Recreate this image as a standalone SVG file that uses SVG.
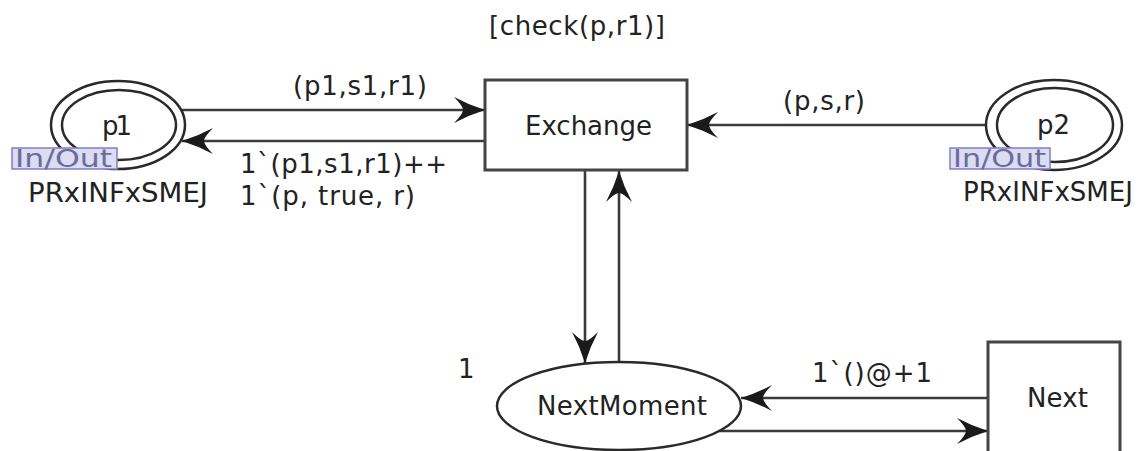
<svg xmlns="http://www.w3.org/2000/svg" width="1147" height="451" viewBox="0 0 1147 451">
  <style>
    text { font-family: "DejaVu Sans", Verdana, sans-serif; font-size: 26px; fill: #222; }
    .place { fill: none; stroke: #2a2a2a; stroke-width: 2.5; }
    .trans { fill: #fff; stroke: #444; stroke-width: 3; }
    .arc { fill: none; stroke: #3a3a3a; stroke-width: 2.6; marker-end: url(#head); }
    .port rect { fill: #dcdcf2; stroke: #7f7fc0; stroke-width: 1.5; }
    .port text { fill: #6b6b9e; font-size: 25px; }
  </style>
  <defs>
    <marker id="head" markerUnits="userSpaceOnUse" viewBox="-32 -14 34 28" refX="0" refY="0" markerWidth="34" markerHeight="28" orient="auto">
      <path d="M0,0 Q-16,-5 -31,-13 Q-22,-4 -22,0 Q-22,4 -31,13 Q-16,5 0,0 Z" fill="#1a1a1a"/>
    </marker>
  </defs>
  <rect width="1147" height="451" fill="#fff"/>

  <!-- arcs -->
  <g id="arcs">
    <path class="arc" d="M182,110 L485,110"/>
    <path class="arc" d="M485,141 L182,141"/>
    <path class="arc" d="M986,125 L687,125"/>
    <path class="arc" d="M585,170 L585,363"/>
    <path class="arc" d="M619,362 L619,171"/>
    <path class="arc" d="M988,398 L741,398"/>
    <path class="arc" d="M719,431 L988,431"/>
    <text x="293" y="95" textLength="134">(p1,s1,r1)</text>
    <text x="240" y="173" textLength="207">1`(p1,s1,r1)++</text>
    <text x="240" y="205" textLength="175">1`(p, true, r)</text>
    <text x="783" y="110" textLength="82">(p,s,r)</text>
    <text x="812" y="382" textLength="120">1`()@+1</text>
  </g>

  <!-- transition Exchange -->
  <g id="Exchange">
    <rect class="trans" x="485" y="80" width="202" height="90"/>
    <text x="525" y="135" textLength="127">Exchange</text>
    <text x="489" y="35" textLength="176">[check(p,r1)]</text>
  </g>

  <!-- place p1 (port) -->
  <g id="p1">
    <ellipse class="place" cx="118" cy="125" rx="67" ry="44"/>
    <ellipse class="place" cx="119" cy="125" rx="57" ry="35"/>
    <text x="102" y="135" textLength="30">p1</text>
    <g class="port">
      <rect x="12" y="148" width="105" height="21"/>
      <text x="15" y="167" textLength="97" lengthAdjust="spacingAndGlyphs">In/Out</text>
    </g>
    <text x="28" y="202" textLength="180" lengthAdjust="spacingAndGlyphs">PRxINFxSMEJ</text>
  </g>

  <!-- place p2 (port) -->
  <g id="p2">
    <ellipse class="place" cx="1054" cy="125" rx="68" ry="45"/>
    <ellipse class="place" cx="1055" cy="125" rx="58" ry="37"/>
    <text x="1037" y="134" textLength="33">p2</text>
    <g class="port">
      <rect x="950" y="148" width="100" height="21"/>
      <text x="953" y="167" textLength="93" lengthAdjust="spacingAndGlyphs">In/Out</text>
    </g>
    <text x="963" y="201" textLength="170" lengthAdjust="spacingAndGlyphs">PRxINFxSMEJ</text>
  </g>

  <!-- place NextMoment -->
  <g id="NextMoment">
    <ellipse class="place" cx="619" cy="406" rx="122" ry="44"/>
    <text x="537" y="415" textLength="170">NextMoment</text>
    <text x="458" y="378">1</text>
  </g>

  <!-- transition Next -->
  <g id="Next">
    <rect class="trans" x="988" y="342" width="132" height="125"/>
    <text x="1027" y="407" textLength="61">Next</text>
  </g>
</svg>
